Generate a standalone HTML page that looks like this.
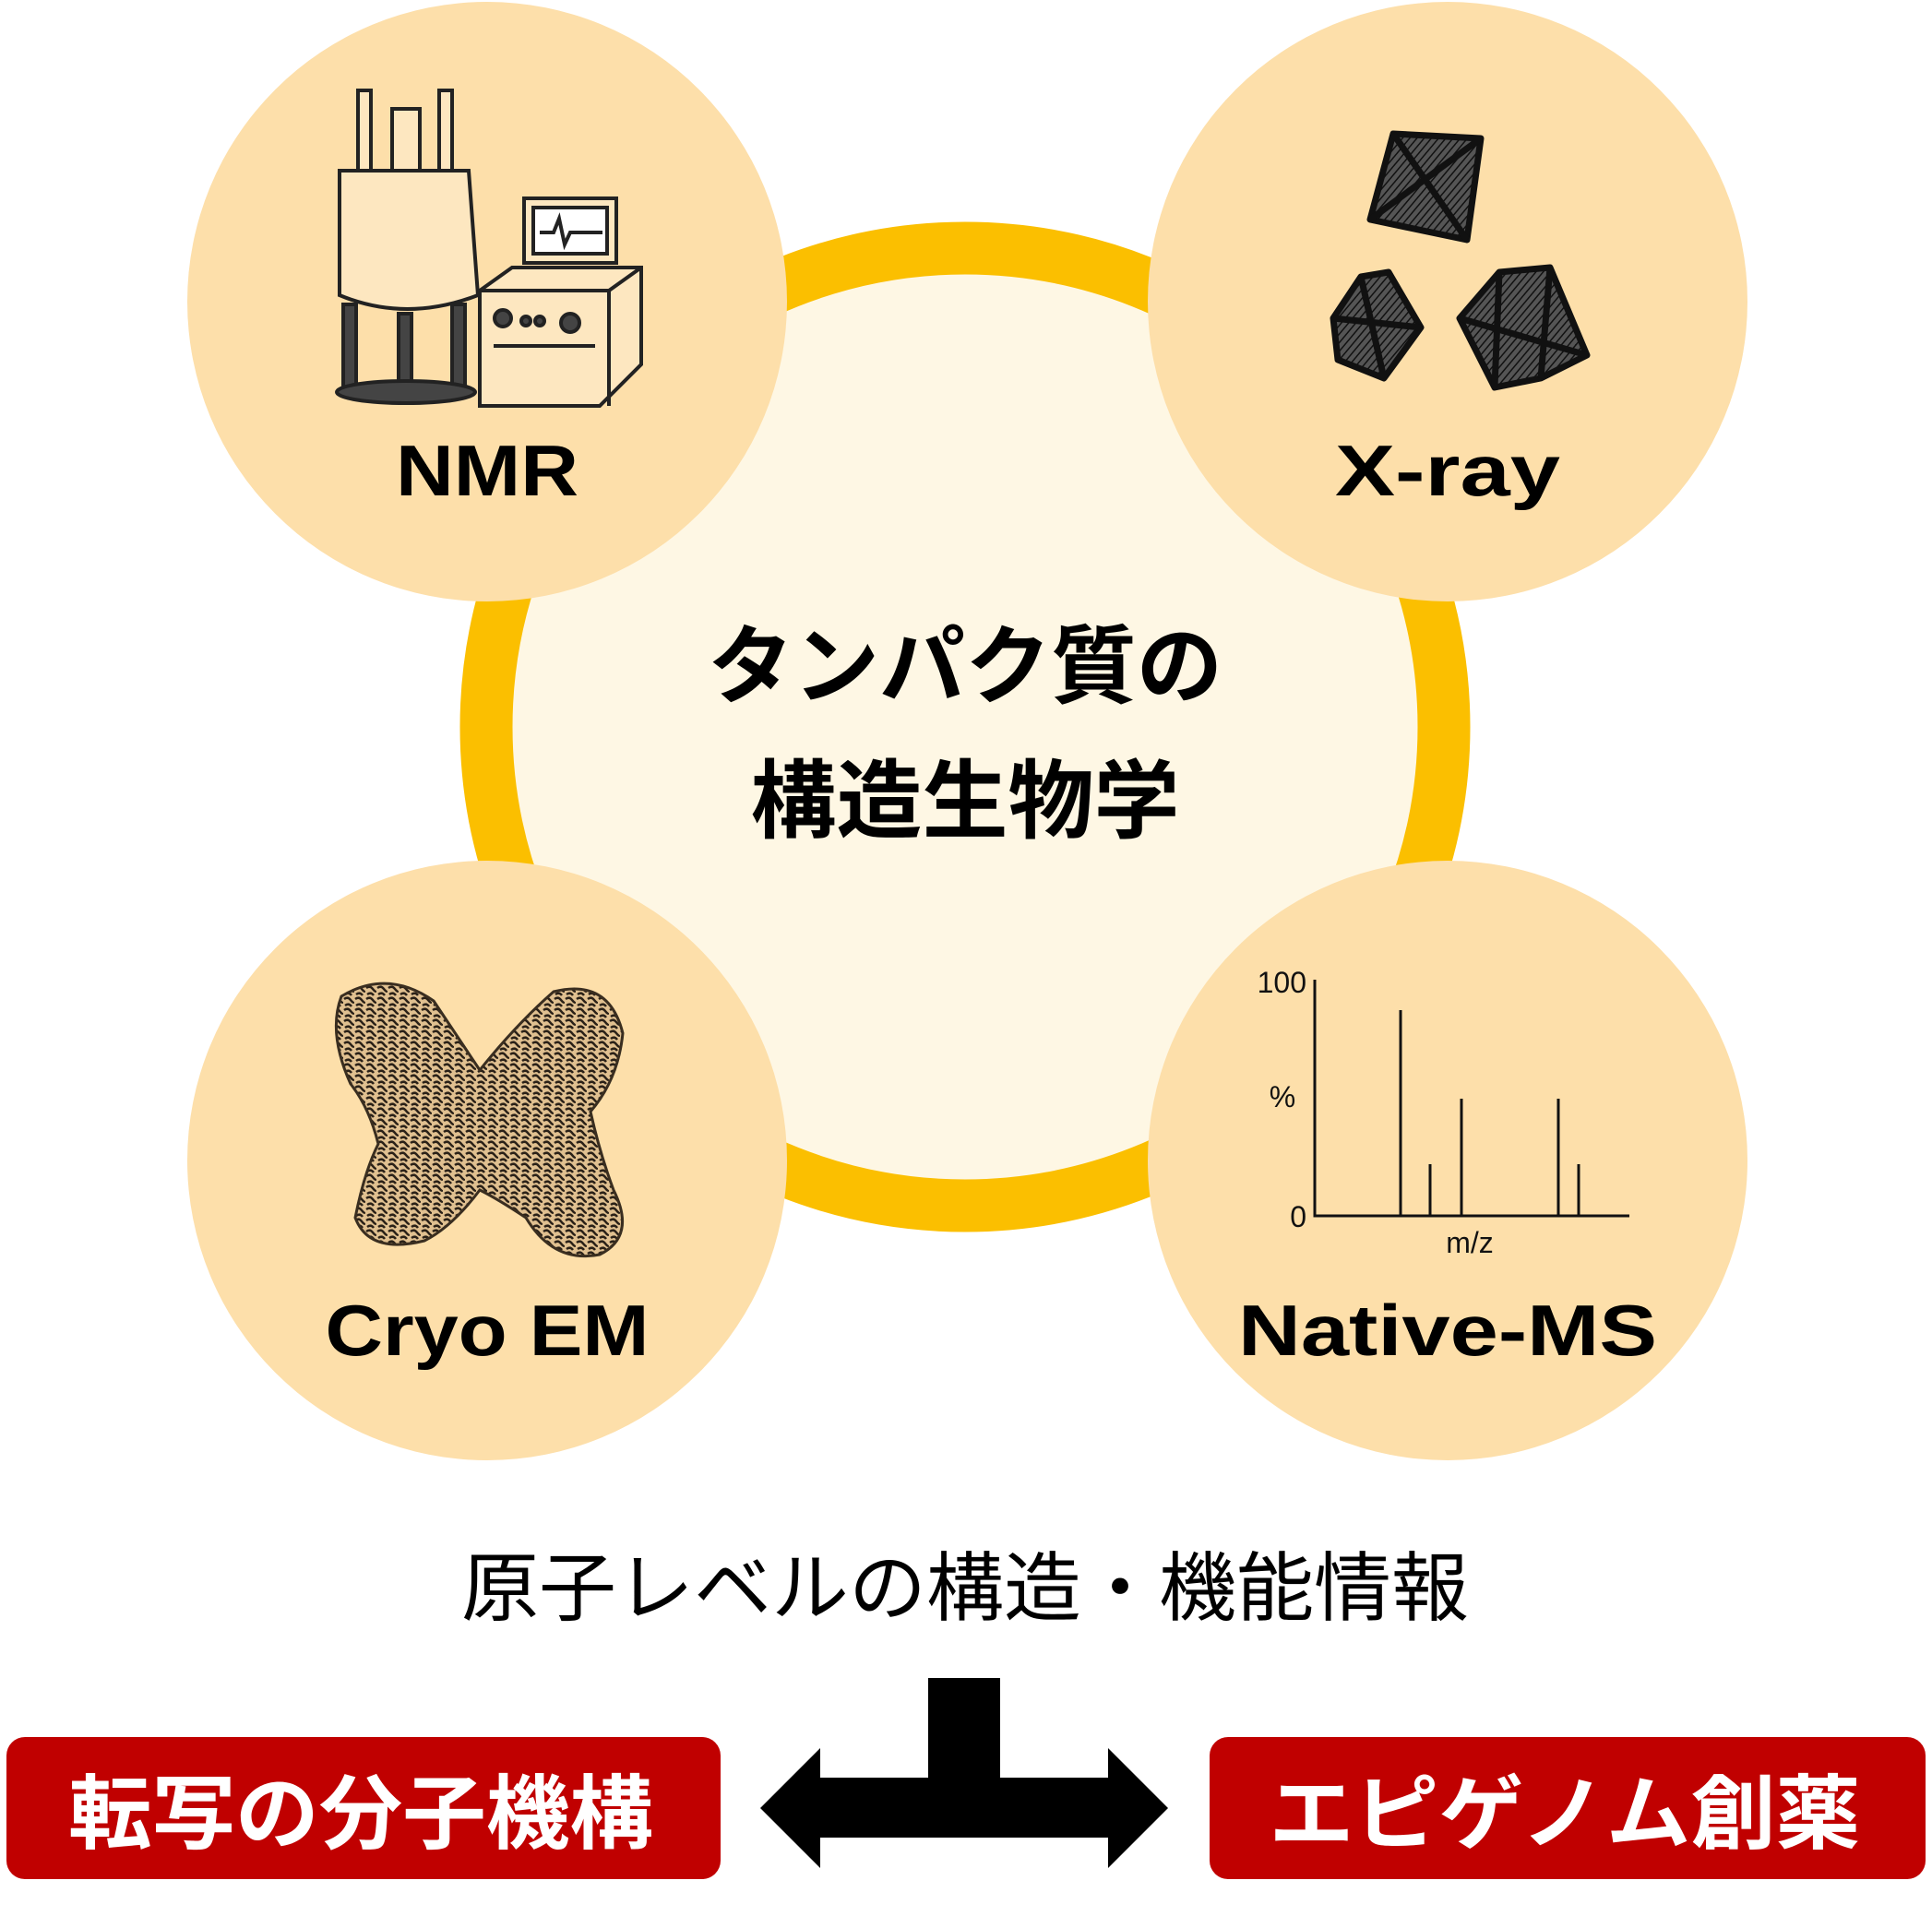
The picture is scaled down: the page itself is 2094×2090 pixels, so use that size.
<!DOCTYPE html>
<html><head><meta charset="utf-8"><style>
html,body{margin:0;padding:0;background:#fff}
svg{display:block}
text{font-family:"Liberation Sans","Noto Sans CJK JP",sans-serif}
</style></head><body>
<svg width="2094" height="2090" viewBox="0 0 2094 2090" xmlns="http://www.w3.org/2000/svg">
<defs>
<pattern id="tex" width="12" height="12" patternUnits="userSpaceOnUse">
<rect width="12" height="12" fill="#e0c090"/>
<path d="M1 3 Q5 0 8 4 T12 6 M2 10 Q6 7 9 11" stroke="#2a2118" stroke-width="2.5" fill="none"/>
</pattern>
<pattern id="hatch" width="6" height="6" patternUnits="userSpaceOnUse" patternTransform="rotate(40)">
<rect width="6" height="6" fill="#555"/><line x1="0" y1="0" x2="0" y2="6" stroke="#111" stroke-width="3"/>
</pattern>
</defs>
<circle cx="1046" cy="788" r="519" fill="#FEF7E4" stroke="#FBBF00" stroke-width="57"/>
<circle cx="528" cy="327" r="325" fill="#FDDFAA"/>
<circle cx="1569" cy="327" r="325" fill="#FDDFAA"/>
<circle cx="528" cy="1258" r="325" fill="#FDDFAA"/>
<circle cx="1569" cy="1258" r="325" fill="#FDDFAA"/>

<text x="1046" y="755" font-size="93" font-weight="bold" text-anchor="middle">タンパク質の</text>
<text x="1046" y="901" font-size="93" font-weight="bold" text-anchor="middle">構造生物学</text>

<text x="528" y="537" font-size="78" font-weight="bold" text-anchor="middle" textLength="198" lengthAdjust="spacingAndGlyphs">NMR</text>
<text x="1569" y="537" font-size="78" font-weight="bold" text-anchor="middle" textLength="244" lengthAdjust="spacingAndGlyphs">X-ray</text>
<text x="528" y="1469" font-size="78" font-weight="bold" text-anchor="middle" textLength="351" lengthAdjust="spacingAndGlyphs">Cryo EM</text>
<text x="1569" y="1469" font-size="78" font-weight="bold" text-anchor="middle" textLength="454" lengthAdjust="spacingAndGlyphs">Native-MS</text>

<!-- NMR icon -->
<g stroke="#222" stroke-width="4" fill="#fde7c0">
<rect x="388" y="98" width="14" height="90"/><rect x="476" y="98" width="14" height="90"/>
<rect x="425" y="118" width="30" height="70"/>
<path d="M368 185 L508 185 L518 320 Q440 350 368 320 Z" fill="#fde7c0"/>
<rect x="372" y="330" width="14" height="95" fill="#444"/><rect x="490" y="330" width="14" height="95" fill="#444"/>
<rect x="432" y="340" width="14" height="85" fill="#444"/>
<ellipse cx="440" cy="425" rx="75" ry="12" fill="#444"/>
<rect x="568" y="215" width="100" height="70" fill="#fde7c0"/>
<rect x="578" y="225" width="80" height="50" fill="#fff"/>
<path d="M585 252 l15 0 l6 -15 l6 28 l6 -13 l35 0" fill="none"/>
<path d="M520 315 L555 290 L695 290 L695 395 L650 440 L520 440 Z" fill="#fde7c0"/>
<line x1="520" y1="315" x2="660" y2="315"/><line x1="660" y1="315" x2="695" y2="290"/><line x1="660" y1="315" x2="660" y2="440"/>
<circle cx="545" cy="345" r="9" fill="#444"/><circle cx="570" cy="348" r="5" fill="#444"/><circle cx="585" cy="348" r="5" fill="#444"/><circle cx="618" cy="350" r="10" fill="#444"/>
<line x1="535" y1="375" x2="645" y2="375"/>
</g>
<!-- crystals -->
<g stroke="#111" stroke-width="7" stroke-linejoin="round">
<polygon points="1510,145 1605,150 1590,260 1485,238" fill="url(#hatch)"/>
<path d="M1510 145 L1590 260 M1605 150 L1485 238" fill="none"/>
<polygon points="1475,300 1505,295 1540,355 1500,410 1450,390 1445,345" fill="url(#hatch)"/>
<path d="M1475 300 L1500 410 M1445 345 L1540 355" fill="none"/>
<polygon points="1625,295 1680,290 1720,385 1670,410 1620,420 1582,345" fill="url(#hatch)"/>
<path d="M1625 295 L1620 420 M1680 290 L1670 410 M1582 345 L1720 385" fill="none"/>
</g>
<!-- cryo em blob -->
<g fill="url(#tex)" stroke="#3a2e20" stroke-width="3">
<path d="M370 1080 Q420 1050 470 1085 Q500 1130 520 1160 Q560 1110 600 1075 Q660 1060 675 1120 Q670 1170 640 1205 Q650 1250 665 1290 Q690 1340 650 1360 Q600 1370 570 1320 Q540 1300 520 1290 Q490 1330 460 1345 Q400 1360 385 1320 Q395 1270 410 1240 Q400 1200 380 1175 Q355 1120 370 1080 Z"/>
</g>
<!-- MS chart -->
<g stroke="#111" stroke-width="3" fill="none">
<path d="M1425 1062 L1425 1318 L1766 1318"/>
<line x1="1518" y1="1318" x2="1518" y2="1095"/>
<line x1="1550" y1="1318" x2="1550" y2="1262"/>
<line x1="1584" y1="1318" x2="1584" y2="1191"/>
<line x1="1689" y1="1318" x2="1689" y2="1191"/>
<line x1="1711" y1="1318" x2="1711" y2="1262"/>
</g>
<g font-size="32" fill="#111">
<text x="1416" y="1076" text-anchor="end">100</text>
<text x="1390" y="1200" text-anchor="middle">%</text>
<text x="1416" y="1330" text-anchor="end">0</text>
<text x="1593" y="1358" text-anchor="middle">m/z</text>
</g>

<text x="1046" y="1750" font-size="82" text-anchor="middle" textLength="1092" lengthAdjust="spacingAndGlyphs">原子レベルの構造・機能情報</text>

<polygon fill="#000" points="824,1960 889,1895 889,1927 1006,1927 1006,1819 1084,1819 1084,1927 1201,1927 1201,1895 1266,1960 1201,2025 1201,1992 889,1992 889,2025"/>

<rect x="7" y="1883" width="774" height="154" rx="20" fill="#C00000"/>
<rect x="1311" y="1883" width="776" height="154" rx="20" fill="#C00000"/>
<text x="391" y="1997" font-size="88" font-weight="bold" fill="#fff" text-anchor="middle" textLength="634" lengthAdjust="spacingAndGlyphs">転写の分子機構</text>
<text x="1696" y="1997" font-size="88" font-weight="bold" fill="#fff" text-anchor="middle" textLength="641" lengthAdjust="spacingAndGlyphs">エピゲノム創薬</text>
</svg>
</body></html>
